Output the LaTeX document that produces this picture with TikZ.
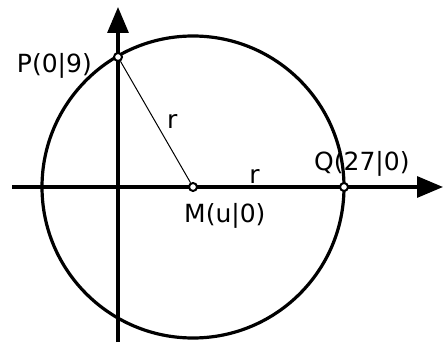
\documentclass[tikz,border=0pt]{standalone}
\usepackage{fontspec}
\setmainfont{DejaVu Sans}
\usetikzlibrary{arrows.meta}

\begin{document}
\begin{tikzpicture}[x=1pt,y=1pt,
    axis/.style={line width=3.2pt,-{Triangle[length=26pt,width=21pt]}},
    pnt/.style={circle,draw,fill=white,line width=2pt,inner sep=0pt,minimum size=8pt},
    lbl/.style={font=\fontsize{25}{30}\selectfont,inner sep=0pt}]
        \useasboundingbox (0,0) rectangle (443,342);
        \coordinate (xs) at (12,155);
        \coordinate (xe) at (443,155);
        \coordinate (ys) at (118,0);
        \coordinate (ye) at (118,335);
        \coordinate (c) at (193,155);
        \draw[axis] (xs) -- (xe);
        \draw[axis] (ys) -- (ye);
        \draw[line width=3.2pt] (c) circle (151);
        \node[pnt] (M) at (c) {};
        \node[pnt] (P) at (118,285) {};
        \node[pnt] (Q) at (344,155) {};
        \draw[line width=1pt] (P) -- node[lbl,right=11pt] {r} (M);
        \path (M) -- node[lbl,pos=0.4,anchor=base,yshift=3pt] {r} (Q);
        \node[lbl,anchor=base west] (Mlbl) at ([xshift=-9pt,yshift=-36pt]M.center) {M(u|0)};
        \node[lbl,anchor=base west] (Qlbl) at ([xshift=-30pt,yshift=16pt]Q.center) {Q(27|0)};
        \node[lbl,anchor=base east] (Plbl) at ([xshift=-26pt,yshift=-16pt]P.center) {P(0|9)};
      \end{tikzpicture}
\end{document}
